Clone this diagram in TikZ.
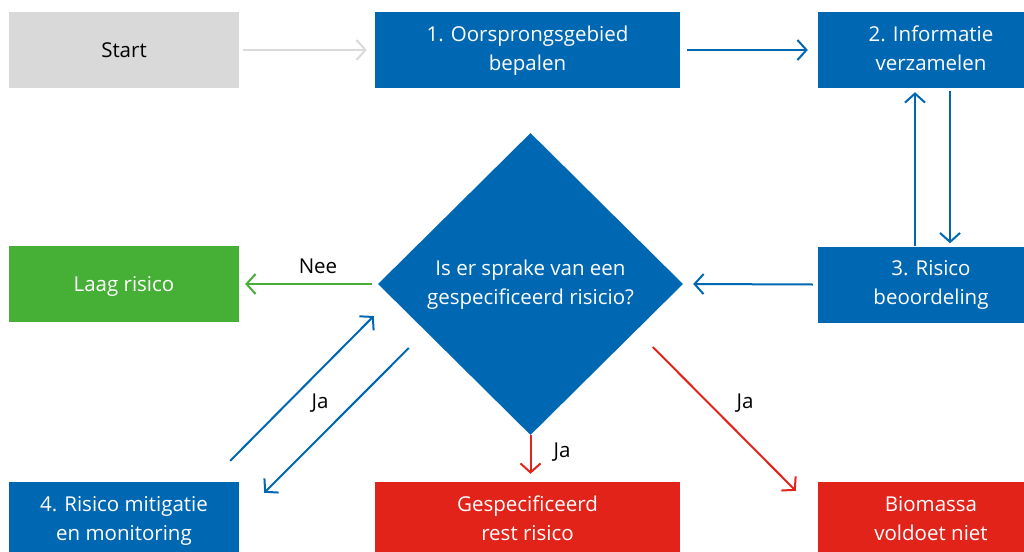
\documentclass[tikz,border=0pt]{standalone}
\usepackage{fontspec}
\setmainfont{Open Sans}
\usetikzlibrary{arrows.meta,shapes.geometric}
\definecolor{rblue}{HTML}{0067B2}
\definecolor{rgray}{HTML}{D9D9D9}
\definecolor{rgreen}{HTML}{45B035}
\definecolor{rred}{HTML}{E2231A}
\definecolor{rlgray}{HTML}{DADADA}
\begin{document}
\begin{tikzpicture}[x=1pt,y=-1pt,
  box/.style={rectangle,inner sep=0,minimum height=76pt,align=center,font=\fontsize{20.5}{29}\selectfont,text=white},
  conn/.style={line width=2pt,-{Straight Barb[length=9pt,width=20pt,line width=2pt]}},
  lbl/.style={font=\fontsize{20.5}{24}\selectfont,text=black}]
\useasboundingbox (0,0) rectangle (1024,551);
\begin{scope}
\clip (0,0) rectangle (1024,551);
\node[box,fill=rgray,text=black,minimum width=230pt] (start) at (124,50) {\strut\raisebox{-2pt}{Start}};
\node[box,fill=rblue,minimum width=305pt] (b1) at (527.5,50) {\strut 1. Oorsprongsgebied\\bepalen\strut};
\node[box,fill=rblue,minimum width=226pt] (b2) at (931,50) {\strut 2. Informatie\\verzamelen\strut};
\node[box,fill=rgreen,minimum width=230pt] (laag) at (124,284) {\strut\raisebox{-2pt}{Laag risico}};
\node[box,fill=rblue,minimum width=226pt] (b3) at (931,284.5) {\strut 3. Risico\\beoordeling\strut};
\node[box,fill=rblue,minimum width=230pt] (b4) at (124,520) {\strut 4. Risico mitigatie\\en monitoring\strut};
\node[box,fill=rred,minimum width=305pt] (gesp) at (527.5,520) {\strut Gespecificeerd\\rest risico\strut};
\node[box,fill=rred,minimum width=226pt] (bio) at (931,520) {\strut Biomassa\\voldoet niet\strut};
\node[diamond,fill=rblue,inner sep=0,minimum width=305pt,minimum height=302pt,align=center,
  font=\fontsize{20.5}{29}\selectfont,text=white] (q) at (530.5,284) {\strut Is er sprake van een\\gespecificeerd risicio?\strut};
\end{scope}
% connectors
\draw[conn,rlgray] ([shift={(4,0)}]start.east) -- ([shift={(-8,0)}]b1.west);
\draw[conn,rblue] ([shift={(7,0)}]b1.east) -- ([shift={(-10,0)}]b2.west);
\draw[conn,rblue] ([shift={(-16,0)}]b3.north) -- ([shift={(-16,4)}]b2.south);
\draw[conn,rblue] ([shift={(19,3)}]b2.south) -- ([shift={(19,-3)}]b3.north);
\draw[conn,rblue] ([shift={(-5,0)}]b3.west) -- ([shift={(10,0)}]q.east);
\draw[conn,rgreen] ([shift={(-6,0)}]q.west) -- ([shift={(6,0)}]laag.east);
\node[lbl] (nee) at (318,266) {Nee};
\draw[conn,rblue] ([shift={(-9,-21)}]b4.north east) -- ([shift={(-4,32)}]q.west);
\draw[conn,rblue] ([shift={(31,64)}]q.west) -- ([shift={(25,11)}]b4.north east);
\node[lbl] (ja1) at (320,403) {Ja};
\draw[conn,rred] (q.south) -- ([shift={(3,-8)}]gesp.north);
\node[lbl] (ja2) at (562,452) {Ja};
\draw[conn,rred] ([shift={(275,63)}]q.west) -- ([shift={(-22,9)}]bio.north west);
\node[lbl] (ja3) at (745,403) {Ja};
\end{tikzpicture}
\end{document}
